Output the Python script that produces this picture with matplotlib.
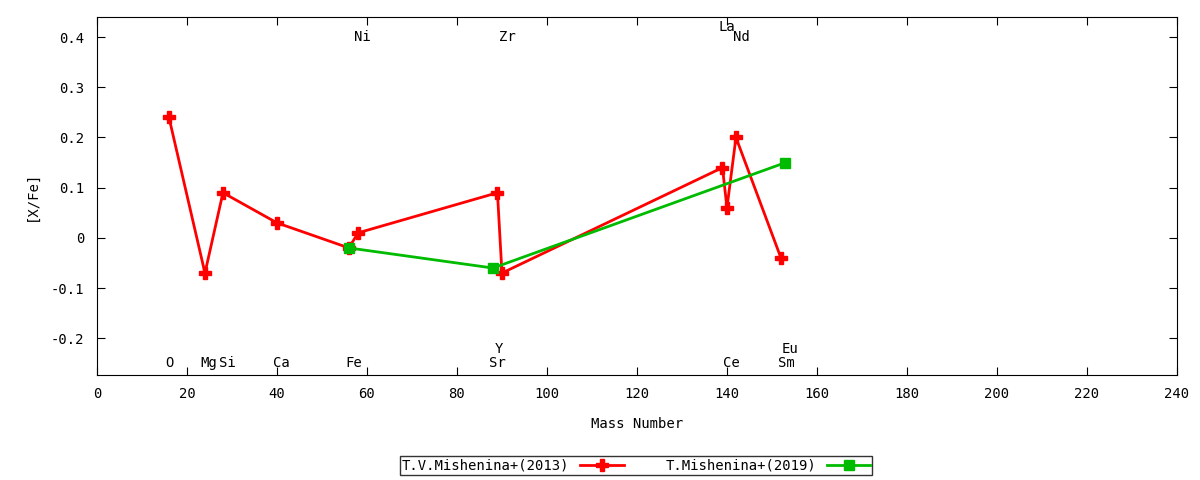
import matplotlib
matplotlib.use("Agg")
import matplotlib.pyplot as plt

plt.rcParams['font.family'] = ['DejaVu Sans Mono']

# T.V.Mishenina+(2013)
mass_2013 = [16, 24, 28, 40, 56, 58, 89, 90, 139, 140, 142, 152]
xfe_2013 = [0.24, -0.07, 0.09, 0.03, -0.02, 0.01, 0.09, -0.07, 0.14, 0.06, 0.20, -0.04]

# T.Mishenina+(2019)
mass_2019 = [56, 88, 153]
xfe_2019 = [-0.02, -0.06, 0.15]

# element labels: name, x, y
elem_names = ['O', 'Mg', 'Si', 'Ca', 'Fe', 'Sr', 'Y', 'Ce', 'Sm', 'Eu',
              'Ni', 'Zr', 'La', 'Nd']
elem_x = [16, 24.9, 28.9, 41.0, 57.0, 88.9, 89.3, 140.9, 153.1, 154.0,
          58.9, 91.1, 140.0, 143.1]
elem_y = [-0.249, -0.249, -0.249, -0.249, -0.249, -0.249, -0.221, -0.249, -0.249, -0.221,
          0.40, 0.40, 0.42, 0.40]

fig = plt.figure(figsize=(12, 4.8), dpi=100)
ax = fig.add_axes([0.0808, 0.2188, 0.9, 0.7458])

ax.plot(mass_2013, xfe_2013, color='#ff0000', lw=2, marker='P', ms=8,
        label='T.V.Mishenina+(2013)')
ax.plot(mass_2019, xfe_2019, color='#00bb00', lw=2, marker='s', ms=7,
        label='T.Mishenina+(2019)')

for name, x, y in zip(elem_names, elem_x, elem_y):
    ax.text(x, y, name, ha='center', va='center', fontsize=10)

ax.set_xlim(0, 240)
ax.set_ylim(-0.273, 0.44)
ax.set_xticks(range(0, 241, 20))
ax.set_yticks([-0.2, -0.1, 0, 0.1, 0.2, 0.3, 0.4])
ax.set_yticklabels(['-0.2', '-0.1', '0', '0.1', '0.2', '0.3', '0.4'])
ax.tick_params(direction='in', top=True, right=True, length=6, labelsize=10, pad=9)
ax.set_xlabel('Mass Number', fontsize=10, labelpad=11)
ax.set_ylabel('[X/Fe]', fontsize=10, labelpad=9)

leg = fig.legend(loc='center', bbox_to_anchor=(0.53, 0.0302), ncol=2,
                 markerfirst=False, fontsize=10, frameon=True, fancybox=False,
                 borderpad=0.15, handlelength=3.1, columnspacing=3, edgecolor='black')
leg.get_frame().set_linewidth(1)

fig.savefig('out.png', dpi=100)
